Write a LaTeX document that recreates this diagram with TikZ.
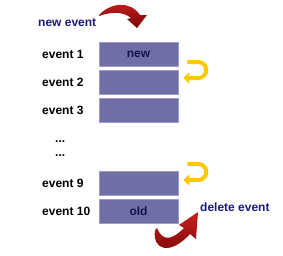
\documentclass[tikz,border=0pt]{standalone}
\usepackage{fontspec}
\setmainfont{Liberation Sans}
\usepackage{xcolor}
\definecolor{slotblue}{HTML}{6F6FA6}
\definecolor{slotedge}{HTML}{9C9CC4}
\definecolor{navy}{HTML}{1A1A7A}
\definecolor{ink}{HTML}{141450}
\definecolor{gold}{HTML}{FFC800}
\definecolor{wine}{HTML}{7A0606}
\definecolor{wine2}{HTML}{C82020}
\usepackage{tikz}
\usetikzlibrary{arrows.meta}
\tikzset{
    slot/.style = {rectangle, draw=slotedge, fill=slotblue, line width=0.6pt,
                   minimum width=79pt, minimum height=24pt, inner sep=0pt,
                   font=\fontsize{12}{14}\selectfont\bfseries, text=ink},
    evlabel/.style = {anchor=west, inner sep=0pt,
                      font=\fontsize{12}{14}\selectfont\bfseries, text=black},
    caption/.style = {anchor=west, inner sep=0pt,
                      font=\fontsize{12}{14}\selectfont\bfseries, text=navy},
    uturn/.style = {-{Triangle[width=11pt,length=6pt]}, line width=4pt, draw=gold},
}

\begin{document}
\begin{tikzpicture}[x=1pt,y=1pt]
        \useasboundingbox (0,0) rectangle (283,-255);
        \node[slot] (e1) at (138.5,-54) {new};
        \node[slot] (e2) at (138.5,-82) {};
        \node[slot] (e3) at (138.5,-110) {};
        \node[slot] (e9) at (138.5,-183) {};
        \node[slot] (e10) at (138.5,-211) {old};
        \node[evlabel] (l1) at (42,-54) {event 1};
        \node[evlabel] (l2) at (42,-82) {event 2};
        \node[evlabel] (l3) at (42,-110) {event 3};
        \node[evlabel] (dots1) at (55,-142) {...};
        \node[evlabel] (dots2) at (55,-156) {...};
        \node[evlabel] (l9) at (42,-183) {event 9};
        \node[evlabel] (l10) at (42,-211) {event 10};
        \node[caption] (newev) at (38,-23) {new event};
        \node[caption] (delev) at (200,-207) {delete event};
        % entries move down one slot
        \draw[uturn] ([xshift=9pt,yshift=-8pt]e1.east) -- ++(11,0)
            arc[start angle=90, end angle=-90, radius=8] -- ([xshift=5pt,yshift=4pt]e2.east);
        \draw[uturn] ([xshift=9pt,yshift=19pt]e9.east) -- ++(11,0)
            arc[start angle=90, end angle=-90, radius=8] -- ([xshift=5pt,yshift=3pt]e9.east);
        % incoming and outgoing arrows
        \shade[top color=wine2, bottom color=wine]
            (99,-15) .. controls (110,-3) and (130,0) .. (140,-15)
            -- (147,-15) -- (137,-28) -- (127,-19) -- (131,-18)
            .. controls (123,-11) and (110,-12) .. (99,-16) -- cycle;
        \shade[top color=wine2, bottom color=wine]
            (155,-230) .. controls (152,-250) and (170,-256) .. (190,-234)
            -- (196,-239) -- (198,-212) -- (179,-225) -- (184,-228)
            .. controls (170,-242) and (162,-240) .. (157,-228) -- cycle;
      \end{tikzpicture}
\end{document}
